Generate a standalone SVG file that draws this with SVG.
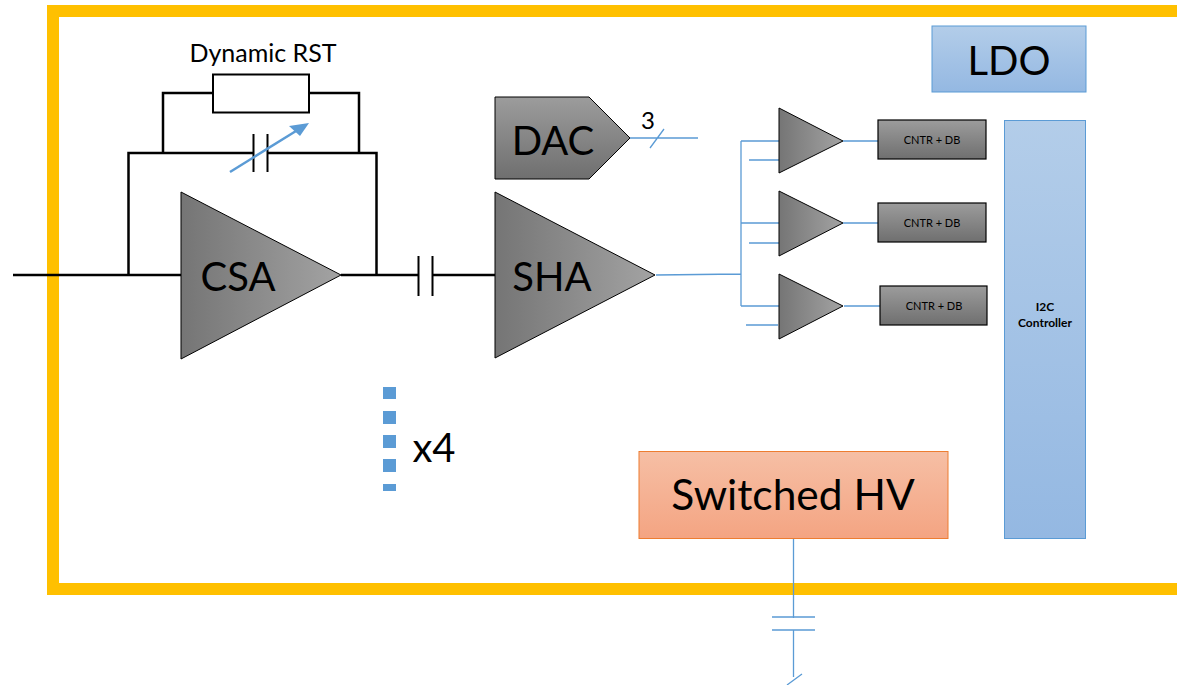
<svg xmlns="http://www.w3.org/2000/svg" width="1177" height="685" viewBox="0 0 1177 685">
<defs>
<linearGradient id="gh" x1="0" y1="0" x2="1" y2="0"><stop offset="0" stop-color="#757575"/><stop offset="1" stop-color="#a3a3a3"/></linearGradient>
<linearGradient id="gv" x1="0" y1="0" x2="0" y2="1"><stop offset="0" stop-color="#9c9c9c"/><stop offset="1" stop-color="#6f6f6f"/></linearGradient>
<linearGradient id="gb" x1="0" y1="0" x2="0" y2="1"><stop offset="0" stop-color="#b3cde9"/><stop offset="1" stop-color="#94b8e2"/></linearGradient>
<linearGradient id="go" x1="0" y1="0" x2="0" y2="1"><stop offset="0" stop-color="#f6bfa5"/><stop offset="1" stop-color="#f4a482"/></linearGradient>
</defs>
<style>
text{font-family:"Lato","Open Sans","Liberation Sans",sans-serif;fill:#000;text-anchor:middle}
.k{fill:none;stroke:#000;stroke-width:2.5}
.p{fill:none;stroke:#000;stroke-width:2}
.b{fill:none;stroke:#5b9bd5;stroke-width:1.3}
.tri{fill:url(#gh);stroke:#000;stroke-width:1}
.cn{fill:url(#gv);stroke:#000;stroke-width:1.2}
.blue{fill:url(#gb);stroke:#5b9bd5;stroke-width:1}
.dot{fill:#5b9bd5}
.big{font-size:40px}
.sm{font-size:11px}
</style>
<rect id="frame" x="53" y="11" width="1140" height="578" fill="#fff" stroke="#ffc000" stroke-width="12"/>
<g id="connectors">
<path class="k" d="M13 275H181M341 275H418M432 275H495M128.500 275V153H253M268 153H376.500V275M163 153V93H213M309 93H359V153"/>
<path class="p" d="M253.500 134V172M267.500 134V172M418.500 256V296M432.500 256V296"/>
<path d="M230 172L296 131" fill="none" stroke="#5b9bd5" stroke-width="2.500"/>
<path d="M309 123L289 126L300 136Z" fill="#5b9bd5"/>
<path class="b" d="M630 138H698M650 148L664 129M656 275L741 274M741 141V306M741 141H779M741 223H779M741 306H779M749 160H779M749 243H779M746 325H778M843 141H878M843 223H878M844 306H880M793.500 539V618M772 617H815M772 630H815M793.500 630V677M787 685L802 674"/>
</g>
<g id="rst"><rect x="213" y="74.500" width="96" height="38" fill="#fff" stroke="#000" stroke-width="2"/><text x="263" y="62" font-size="25">Dynamic RST</text></g>
<g id="csa"><path class="tri" d="M181 192L341 275L181 359Z"/><text x="238" y="291" class="big">CSA</text></g>
<g id="sha"><path class="tri" d="M495 192L655 275L495 358Z"/><text x="552" y="291" class="big">SHA</text></g>
<g id="dac"><path d="M495 97H589L630 138L589 179H495Z" fill="url(#gv)" stroke="#000"/><text x="553" y="155" class="big">DAC</text></g>
<g id="bit-label"><text x="648" y="129" font-size="24">3</text></g>
<g id="cmp1"><path class="tri" d="M779 108L843 141L779 173Z"/></g>
<g id="cmp2"><path class="tri" d="M779 191L843 223L779 256Z"/></g>
<g id="cmp3"><path class="tri" d="M779 274L843 306L779 339Z"/></g>
<g id="cntr1"><rect class="cn" x="878" y="120" width="108" height="39"/><text x="932" y="144" class="sm">CNTR + DB</text></g>
<g id="cntr2"><rect class="cn" x="878" y="203" width="108" height="39"/><text x="932" y="227" class="sm">CNTR + DB</text></g>
<g id="cntr3"><rect class="cn" x="880" y="286" width="107" height="39"/><text x="934" y="310" class="sm">CNTR + DB</text></g>
<g id="ldo"><rect class="blue" x="932" y="26" width="154" height="66"/><text x="1009" y="75" class="big">LDO</text></g>
<g id="i2c"><rect class="blue" x="1004.500" y="120.500" width="81" height="418"/><text x="1045" y="311" font-size="12" font-weight="700"><tspan x="1045">I2C</tspan><tspan x="1045" dy="16">Controller</tspan></text></g>
<g id="hv"><rect x="639" y="451.500" width="309" height="87" fill="url(#go)" stroke="#ed7d31"/><text x="793" y="510" font-size="42.500">Switched HV</text></g>
<g id="dots"><rect class="dot" x="383" y="387" width="13" height="12"/><rect class="dot" x="383" y="411" width="13" height="13"/><rect class="dot" x="383" y="435" width="13" height="13"/><rect class="dot" x="383" y="459" width="13" height="13"/><rect class="dot" x="383" y="484" width="13" height="7"/></g>
<g id="count"><text x="434" y="462" class="big">x4</text></g>
</svg>
